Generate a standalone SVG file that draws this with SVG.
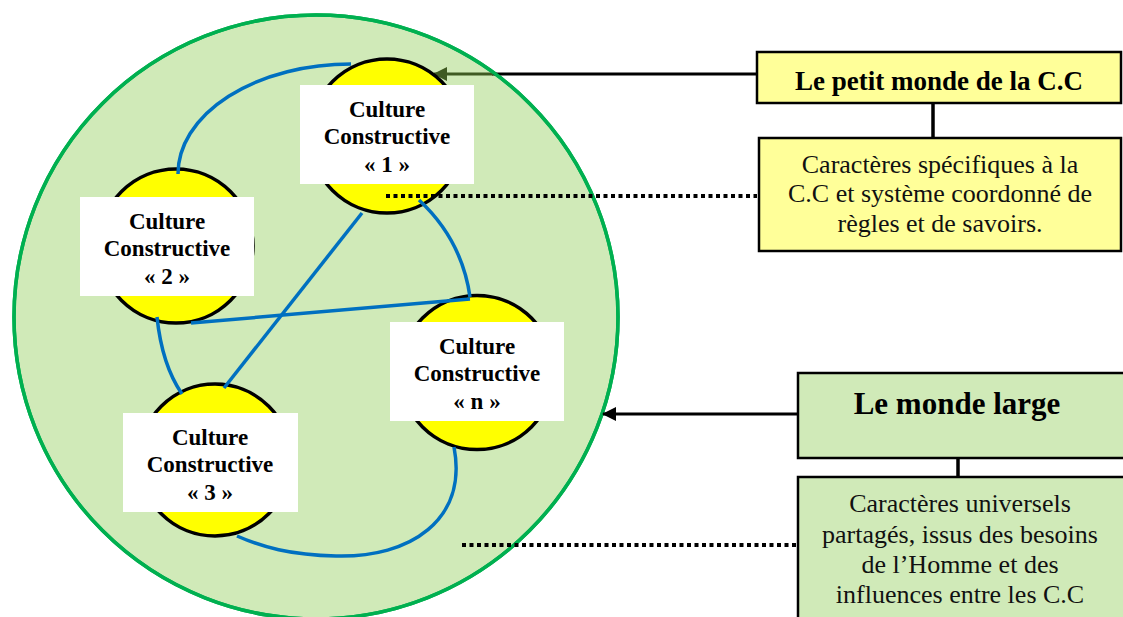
<svg xmlns="http://www.w3.org/2000/svg" width="1123" height="617" viewBox="0 0 1123 617">
<style>
.node-text{font-family:"Liberation Serif","Times New Roman",serif;font-weight:bold;font-size:23px;text-anchor:middle;fill:#000}
.title{font-family:"Liberation Serif","Times New Roman",serif;font-weight:bold;text-anchor:middle;fill:#000}
.body{font-family:"Liberation Serif","Times New Roman",serif;font-size:26px;text-anchor:middle;fill:#111}
.yc{fill:#FFFF00;stroke:#000;stroke-width:3.5}
.wbox{fill:#fff}
.blue{fill:none;stroke:#0070C0;stroke-width:3.5}
.dot{fill:none;stroke:#000;stroke-width:4;stroke-dasharray:4 3.5}
.arrow{fill:none;stroke:#000;stroke-width:3}
.ybox{fill:#FFFF99;stroke:#000;stroke-width:2.5}
.gbox{fill:#d0eab8;stroke:#000;stroke-width:2.5}
</style>
<defs>
<marker id="ah" markerUnits="userSpaceOnUse" markerWidth="14" markerHeight="14" refX="13" refY="7" orient="auto">
<path d="M0,0 L14,7 L0,14 z" fill="#000"/>
</marker>
<marker id="ahg" markerUnits="userSpaceOnUse" markerWidth="14" markerHeight="14" refX="13" refY="7" orient="auto">
<path d="M0,0 L14,7 L0,14 z" fill="#3f5a22"/>
</marker>
</defs>
<rect width="1123" height="617" fill="#fff"/>
<g id="world">
<circle cx="316" cy="317" r="302" fill="#d0eab8" stroke="#00B050" stroke-width="3.5"/>
</g>
<g id="connectors-back">
<path d="M757,74 L492,74" stroke="#000" stroke-width="3" fill="none"/>
<path d="M493,74 L434,74" stroke="#3f5a22" stroke-width="3" fill="none" marker-end="url(#ahg)"/>
</g>
<g id="world-edge">
<circle cx="316" cy="317" r="302" fill="none" stroke="#00B050" stroke-width="3.5"/>
</g>
<g id="cc1">
<circle class="yc" cx="387" cy="136" r="77"/>
<rect class="wbox" x="300" y="85" width="174" height="99"/>
<text class="node-text" x="387" y="117">Culture</text>
<text class="node-text" x="387" y="144">Constructive</text>
<text class="node-text" x="387" y="172">« 1 »</text>
</g>
<g id="cc2">
<circle class="yc" cx="176" cy="246" r="77"/>
<rect class="wbox" x="80" y="197" width="174" height="99"/>
<text class="node-text" x="167" y="229">Culture</text>
<text class="node-text" x="167" y="256">Constructive</text>
<text class="node-text" x="167" y="284">« 2 »</text>
</g>
<g id="cc3">
<circle class="yc" cx="215" cy="460" r="76"/>
<rect class="wbox" x="123" y="413" width="175" height="99"/>
<text class="node-text" x="210" y="445">Culture</text>
<text class="node-text" x="210" y="472">Constructive</text>
<text class="node-text" x="210" y="500">« 3 »</text>
</g>
<g id="ccn">
<circle class="yc" cx="477" cy="372.5" r="77"/>
<rect class="wbox" x="390" y="322" width="174" height="99"/>
<text class="node-text" x="477" y="354">Culture</text>
<text class="node-text" x="477" y="381">Constructive</text>
<text class="node-text" x="477" y="409">« n »</text>
</g>
<g id="petit-monde">
<rect class="ybox" x="757" y="52" width="364" height="51"/>
<text class="title" x="939" y="90" font-size="27">Le petit monde de la C.C</text>
</g>
<g id="specifiques">
<rect class="ybox" x="759" y="138" width="362" height="113"/>
<text class="body" x="940" y="173">Caractères spécifiques à la</text>
<text class="body" x="940" y="202">C.C et système coordonné de</text>
<text class="body" x="940" y="232">règles et de savoirs.</text>
</g>
<g id="monde-large">
<rect class="gbox" x="798" y="373" width="340" height="85"/>
<text class="title" x="957" y="414" font-size="31">Le monde large</text>
</g>
<g id="universels">
<rect class="gbox" x="798" y="477" width="340" height="160"/>
<text class="body" x="960" y="512">Caractères universels</text>
<text class="body" x="960" y="543">partagés, issus des besoins</text>
<text class="body" x="960" y="573">de l’Homme et des</text>
<text class="body" x="960" y="603">influences entre les C.C</text>
</g>
<g id="connectors">
<path class="blue" d="M351,64 A173,110 0 0 0 178,174"/>
<path class="blue" d="M362,213 L224,388"/>
<path class="blue" d="M419,200 Q462,240 470,297"/>
<path class="blue" d="M191,323 L470,299"/>
<path class="blue" d="M157,317 Q162,365 182,394"/>
<path class="blue" d="M454,447 C468,520 410,558 336,556 C290,555 262,547 237,536"/>
<path class="dot" d="M386,196 L757,196"/>
<path class="dot" d="M462,545 L798,545"/>
<path class="arrow" d="M798,414 L603,414" marker-end="url(#ah)"/>
<path d="M933,103 L933,138" stroke="#000" stroke-width="3.5"/>
<path d="M958,458 L958,477" stroke="#000" stroke-width="3.5"/>
</g>
</svg>
